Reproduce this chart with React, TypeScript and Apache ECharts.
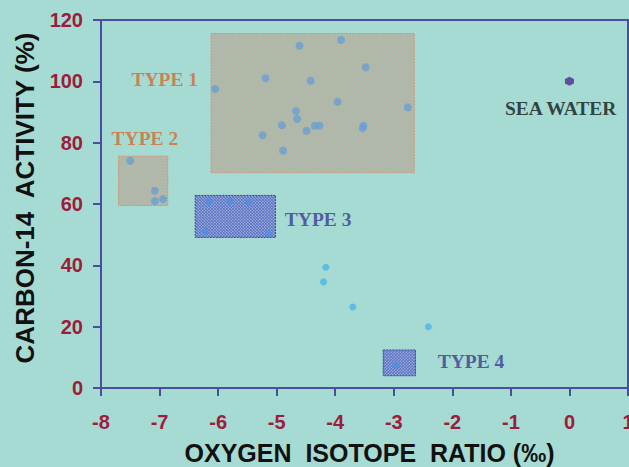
import React, { useEffect, useRef } from "react";
import * as echarts from "echarts";

const xTicks = { min: -8, max: 1, interval: 1 };
const yTicks = { min: 0, max: 120, interval: 20 };

// boxes: [x1, y1, x2, y2, kind] kind 0 = hatched (orange), 1 = checker (blue)
const boxType1 = [-6.12, 70.2, -2.65, 115.6, 0];
const boxType2 = [-7.7, 59.5, -6.86, 75.6, 0];
const boxType3 = [-6.39, 49.1, -5.02, 62.8, 1];
const boxType4 = [-3.18, 4.0, -2.63, 12.4, 1];

const type1Points = [
  [-6.05, 97.5], [-5.19, 101.0], [-4.61, 111.6], [-3.9, 113.5], [-3.48, 104.6],
  [-4.42, 100.2], [-3.96, 93.3], [-2.76, 91.5], [-4.67, 90.3], [-4.65, 87.7],
  [-4.91, 85.7], [-5.24, 82.4], [-4.49, 83.9], [-4.35, 85.5], [-4.27, 85.5],
  [-3.52, 85.5], [-3.53, 84.7], [-4.89, 77.4],
];
const type2Points = [[-7.5, 74.1], [-7.08, 64.3], [-7.08, 61.0], [-6.94, 61.6]];
const type3Points = [[-6.16, 60.7], [-5.8, 60.7], [-5.47, 60.7], [-6.22, 51.2], [-5.14, 50.4]];
const type4Points = [[-2.97, 7.4]];
const otherPoints = [[-4.16, 39.4], [-4.2, 34.6], [-3.7, 26.4], [-2.41, 20.0]];
const seaWater = [[0, 100]];

const annotations = [
  { text: "TYPE 1", x: -7.48, y: 100.7, color: "#d46a34", align: "left" },
  { text: "TYPE 2", x: -7.82, y: 81.2, color: "#d46a34", align: "left" },
  { text: "TYPE 3", x: -4.86, y: 54.8, color: "#3a3a8e", align: "left" },
  { text: "TYPE 4", x: -2.25, y: 8.6, color: "#3a3a8e", align: "left" },
  { text: "SEA WATER", x: -0.15, y: 91.3, color: "#111a1a", align: "center" },
];

const axisColor = "#4a4e9e";
const tickLabelColor = "#9c1c3c";

function renderBox(params: any, api: any) {
  const x1 = api.value(0), y1 = api.value(1), x2 = api.value(2), y2 = api.value(3);
  const kind = api.value(4);
  const tl = api.coord([x1, y2]);
  const br = api.coord([x2, y1]);
  const L = tl[0], T = tl[1], R = br[0], B = br[1];
  const children: any[] = [];
  children.push({
    type: "rect",
    shape: { x: L, y: T, width: R - L, height: B - T },
    style: { fill: kind === 0 ? "#a9c0b6" : "#98b0e2", stroke: null },
  });
  const step = 3;
  const strokeCol = kind === 0 ? "#c4a68c" : "#4c5cb2";
  const lw = kind === 0 ? 0.9 : 0.75;
  // "/" lines: x + y = c
  for (let c = L + T; c <= R + B; c += step) {
    const xa = Math.max(L, c - B);
    const xb = Math.min(R, c - T);
    if (xb > xa) {
      children.push({
        type: "line",
        shape: { x1: xa, y1: c - xa, x2: xb, y2: c - xb },
        style: { stroke: strokeCol, lineWidth: lw },
      });
    }
  }
  if (kind === 1) {
    // "\" lines: x - y = c
    for (let c = L - B; c <= R - T; c += step) {
      const xa = Math.max(L, c + T);
      const xb = Math.min(R, c + B);
      if (xb > xa) {
        children.push({
          type: "line",
          shape: { x1: xa, y1: xa - c, x2: xb, y2: xb - c },
          style: { stroke: strokeCol, lineWidth: lw },
        });
      }
    }
  }
  children.push({
    type: "rect",
    shape: { x: L, y: T, width: R - L, height: B - T },
    style: {
      fill: null,
      stroke: kind === 0 ? "#d09478" : "#3a48a0",
      lineWidth: 1,
      lineDash: [2, 1],
    },
  });
  return { type: "group", children };
}

export default function App() {
  const ref = useRef<HTMLDivElement>(null);
  useEffect(() => {
    document.body.style.margin = "0";
    document.body.style.background = "#a6dbd3";
    const chart = echarts.init(ref.current!, null, { renderer: "svg" });
    const pointStyle = (color: string, size: number, z = 3) => ({
      type: "scatter" as const,
      symbolSize: size,
      itemStyle: { color },
      z,
    });
    chart.setOption({
      animation: false,
      backgroundColor: "#a6dbd3",
      grid: {
        left: 101,
        right: 1,
        top: 20,
        bottom: 79,
        show: true,
        borderColor: axisColor,
        borderWidth: 2,
        backgroundColor: "transparent",
        containLabel: false,
        outerBoundsMode: "none",
      },
      xAxis: {
        type: "value",
        min: xTicks.min,
        max: xTicks.max,
        interval: xTicks.interval,
        splitLine: { show: false },
        axisLine: { show: true, onZero: false, lineStyle: { color: axisColor, width: 2 } },
        axisTick: { show: true, inside: false, length: 8, lineStyle: { color: axisColor, width: 2 } },
        axisLabel: {
          color: tickLabelColor,
          fontFamily: "Liberation Sans",
          fontWeight: "bold",
          fontSize: 20,
          margin: 24,
        },
        name: "OXYGEN  ISOTOPE  RATIO (‰)",
        nameLocation: "middle",
        nameGap: 52,
        nameTextStyle: {
          color: "#111111",
          fontFamily: "Liberation Sans",
          fontWeight: "bold",
          fontSize: 25,
          padding: [0, 0, 0, 10],
        },
      },
      yAxis: {
        type: "value",
        min: yTicks.min,
        max: yTicks.max,
        interval: yTicks.interval,
        splitLine: { show: false },
        axisLine: { show: true, onZero: false, lineStyle: { color: axisColor, width: 2 } },
        axisTick: { show: true, inside: false, length: 8, lineStyle: { color: axisColor, width: 2 } },
        axisLabel: {
          color: tickLabelColor,
          fontFamily: "Liberation Sans",
          fontWeight: "bold",
          fontSize: 20,
          margin: 18,
        },
        name: "CARBON-14  ACTIVITY (%)",
        nameLocation: "middle",
        nameRotate: 90,
        nameGap: 63,
        nameTextStyle: {
          color: "#111111",
          fontFamily: "Liberation Sans",
          fontWeight: "bold",
          fontSize: 26,
          padding: [0, 0, 0, 12],
        },
      },
      series: [
        {
          type: "custom",
          renderItem: renderBox,
          data: [boxType1, boxType2, boxType3, boxType4],
          z: 1,
          silent: true,
        },
        { ...pointStyle("#6a9fd2", 8), data: type1Points },
        { ...pointStyle("#6a9fd2", 8), data: type2Points },
        { ...pointStyle("#4f8fe0", 7), data: type3Points },
        { ...pointStyle("#4f8fe0", 7), data: type4Points },
        { ...pointStyle("#4cb4ea", 7), data: otherPoints },
        {
          type: "scatter",
          symbol: "path://M0,-1 L0.866,-0.5 L0.866,0.5 L0,1 L-0.866,0.5 L-0.866,-0.5 Z",
          symbolSize: 9,
          itemStyle: { color: "#4b2c8c" },
          data: seaWater,
          z: 4,
        },
        {
          type: "scatter",
          symbolSize: 0,
          silent: true,
          z: 5,
          data: annotations.map((a) => ({
            value: [a.x, a.y],
            label: {
              show: true,
              formatter: a.text,
              position: "inside",
              align: a.align,
              verticalAlign: "middle",
              color: a.color,
              fontFamily: "Liberation Serif",
              fontWeight: "bold",
              fontSize: 19.5,
            },
          })),
        },
      ],
    });
    return () => chart.dispose();
  }, []);
  return <div ref={ref} style={{ width: 629, height: 467 }} />;
}
